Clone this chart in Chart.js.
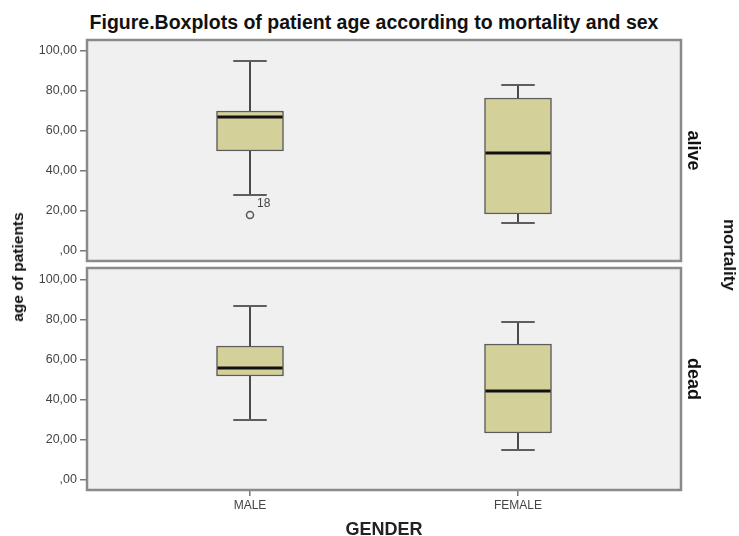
<!DOCTYPE html>
<html>
<head>
<meta charset="utf-8">
<script src="https://cdn.jsdelivr.net/npm/chart.js@4.4.1/dist/chart.umd.min.js"></script>
<style>
  body { margin: 0; background: #fff; font-family: "Liberation Sans", Arial, sans-serif; }
  #wrap { position: relative; width: 739px; height: 536px; overflow: hidden; }
  canvas { position: absolute; left: 0; }
  .lbl { position: absolute; font-weight: bold; color: #111; white-space: nowrap; transform: translate(-50%, -50%); }
</style>
</head>
<body>
<div id="wrap">
  <div class="lbl" style="left:374px;top:22px;font-size:19.5px">Figure.Boxplots of patient age according to mortality and sex</div>
  <canvas id="alive" width="739" height="225" style="top:38px"></canvas>
  <canvas id="dead" width="739" height="270" style="top:266px"></canvas>
  <div class="lbl" style="left:18px;top:267px;font-size:15.5px;transform:translate(-50%,-50%) rotate(-90deg)">age of patients</div>
  <div class="lbl" style="left:729px;top:255px;font-size:17px;transform:translate(-50%,-50%) rotate(90deg)">mortality</div>
</div>
<script>
const FONT = '"Liberation Sans", Arial, sans-serif';

const genders = ['MALE', 'FEMALE'];
const yTicks = [0, 20, 40, 60, 80, 100];

// alive
const aliveMin = [28, 14];
const aliveQ1 = [50, 18.5];
const aliveMedian = [67, 49];
const aliveQ3 = [70, 76.5];
const aliveMax = [95, 83];
const aliveOutGender = ['MALE'];
const aliveOutAge = [18];
const aliveOutCase = ['18'];

// dead
const deadMin = [30, 15];
const deadQ1 = [52, 23.5];
const deadMedian = [56, 44.5];
const deadQ3 = [67, 68];
const deadMax = [87, 79];
const deadOutGender = [];
const deadOutAge = [];
const deadOutCase = [];

function fmt(v) {
  if (v === 0) return ',00';
  return v.toFixed(2).replace('.', ',');
}

function boxParts(label, st) {
  return {
    id: 'boxParts',
    beforeDraw(chart) {
      const a = chart.chartArea, ctx = chart.ctx;
      ctx.save();
      ctx.fillStyle = '#f0f0f0';
      ctx.fillRect(a.left, a.top, a.right - a.left, a.bottom - a.top);
      ctx.restore();
    },
    afterDatasetsDraw(chart) {
      const ctx = chart.ctx, x = chart.scales.x, y = chart.scales.y;
      const bars = chart.getDatasetMeta(0).data;
      ctx.save();
      genders.forEach((g, i) => {
        const cx = x.getPixelForValue(i + 1);
        const capW = bars[i].width / 2;
        ctx.strokeStyle = '#4a4a4a';
        ctx.lineWidth = 2;
        ctx.beginPath();
        ctx.moveTo(cx, y.getPixelForValue(st.q3[i]));
        ctx.lineTo(cx, y.getPixelForValue(st.max[i]));
        ctx.moveTo(cx, y.getPixelForValue(st.q1[i]));
        ctx.lineTo(cx, y.getPixelForValue(st.min[i]));
        ctx.stroke();
        ctx.strokeStyle = '#5e5e5e';
        ctx.beginPath();
        ctx.moveTo(cx - capW / 2, y.getPixelForValue(st.max[i]));
        ctx.lineTo(cx + capW / 2, y.getPixelForValue(st.max[i]));
        ctx.moveTo(cx - capW / 2, y.getPixelForValue(st.min[i]));
        ctx.lineTo(cx + capW / 2, y.getPixelForValue(st.min[i]));
        ctx.stroke();
        // median
        ctx.strokeStyle = '#111';
        ctx.lineWidth = 3;
        ctx.beginPath();
        ctx.moveTo(bars[i].x - bars[i].width / 2 + 1, y.getPixelForValue(st.med[i]));
        ctx.lineTo(bars[i].x + bars[i].width / 2 - 1, y.getPixelForValue(st.med[i]));
        ctx.stroke();
      });
      // outlier case numbers
      ctx.fillStyle = '#444';
      ctx.font = '12px ' + FONT;
      ctx.textAlign = 'left';
      ctx.textBaseline = 'middle';
      chart.getDatasetMeta(1).data.forEach((p, i) => {
        ctx.fillText(st.outCase[i], p.x + 7, p.y - 11);
      });
      ctx.restore();
    },
    afterDraw(chart) {
      const a = chart.chartArea, ctx = chart.ctx;
      ctx.save();
      ctx.strokeStyle = '#8a8a8a';
      ctx.lineWidth = 2.5;
      ctx.strokeRect(a.left, a.top, a.right - a.left, a.bottom - a.top);
      // panel label on the right
      ctx.translate(693, (a.top + a.bottom) / 2);
      ctx.rotate(Math.PI / 2);
      ctx.fillStyle = '#111';
      ctx.font = 'bold 18px ' + FONT;
      ctx.textAlign = 'center';
      ctx.textBaseline = 'middle';
      ctx.fillText(label, 0, 0);
      ctx.restore();
    }
  };
}

function makePanel(id, label, st, yMin, yMax, showX) {
  return new Chart(document.getElementById(id), {
    type: 'bar',
    data: {
      datasets: [
        {
          type: 'bar',
          data: genders.map((g, i) => ({ x: i + 1, y: [st.q1[i], st.q3[i]] })),
          backgroundColor: '#d4d09a',
          borderColor: '#5c5c5c',
          borderWidth: 1.5,
          borderSkipped: false,
          barThickness: 67,
          order: 2
        },
        {
          type: 'scatter',
          data: st.outGender.map((g, i) => ({ x: genders.indexOf(g) + 1, y: st.outAge[i] })),
          pointRadius: 3.5,
          borderColor: '#555',
          borderWidth: 1.5,
          backgroundColor: 'rgba(0,0,0,0)',
          order: 1
        }
      ]
    },
    options: {
      responsive: false,
      animation: false,
      devicePixelRatio: 1,
      layout: { autoPadding: false, padding: { left: 0, right: 58, top: 2, bottom: showX ? 0 : 2 } },
      plugins: { legend: { display: false }, tooltip: { enabled: false } },
      scales: {
        x: {
          type: 'linear',
          min: 1 - 163 / 268,
          max: 2 + 163 / 268,
          offset: false,
          display: showX,
          grid: { drawOnChartArea: false, offset: false, color: '#777', tickLength: 6, lineWidth: 1.5 },
          border: { display: false },
          afterBuildTicks: s => { s.ticks = genders.map((g, i) => ({ value: i + 1 })); },
          afterFit: s => {
            s.height = showX ? 46 : 0;
            s.paddingLeft = 0;
            s.paddingRight = 0;
          },
          ticks: {
            color: '#444',
            font: { size: 12, family: FONT },
            padding: 2,
            callback: v => genders[v - 1] || ''
          },
          title: {
            display: true,
            text: 'GENDER',
            color: '#222',
            padding: 0,
            font: { size: 18, weight: 'bold', family: FONT, lineHeight: 0.7 }
          }
        },
        y: {
          min: yMin,
          max: yMax,
          afterBuildTicks: s => { s.ticks = yTicks.map(v => ({ value: v })); },
          afterFit: s => {
            s.width = 87;
            s.paddingTop = 0;
            s.paddingBottom = 0;
          },
          grid: { drawOnChartArea: false, color: '#777', tickLength: 7, lineWidth: 1.5 },
          border: { display: false },
          ticks: {
            color: '#444',
            font: { size: 12.5, family: FONT },
            padding: 3,
            callback: v => fmt(v)
          }
        }
      }
    },
    plugins: [boxParts(label, st)]
  });
}

makePanel('alive', 'alive', {
  min: aliveMin, q1: aliveQ1, med: aliveMedian, q3: aliveQ3, max: aliveMax,
  outGender: aliveOutGender, outAge: aliveOutAge, outCase: aliveOutCase
}, -5, 105.5, false);

makePanel('dead', 'dead', {
  min: deadMin, q1: deadQ1, med: deadMedian, q3: deadQ3, max: deadMax,
  outGender: deadOutGender, outAge: deadOutAge, outCase: deadOutCase
}, -5, 106, true);
</script>
</body>
</html>
